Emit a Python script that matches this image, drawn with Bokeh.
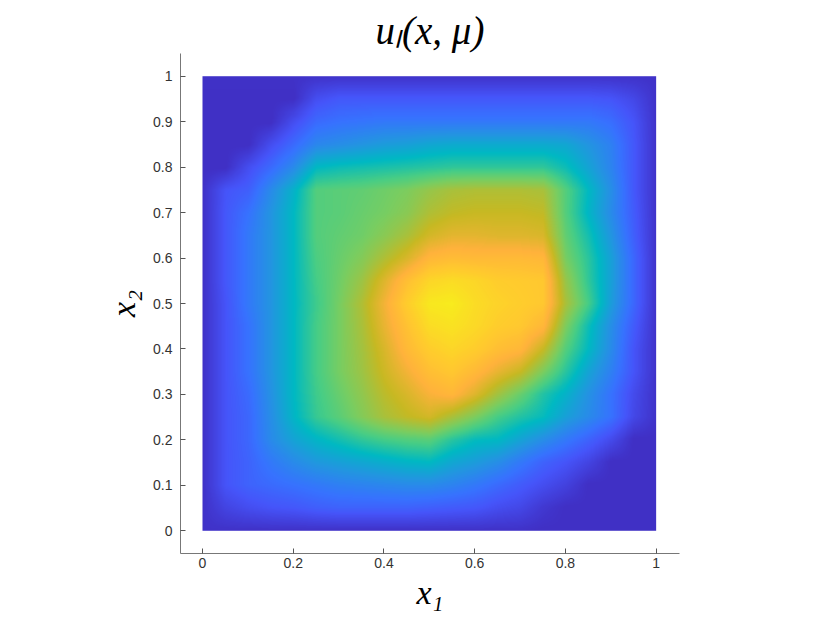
import numpy as np
from bokeh.plotting import figure
from bokeh.models import LinearColorMapper, FixedTicker
from bokeh.embed import file_html
from bokeh.resources import INLINE

title_text = "uₗ(x, μ)"
x_label = "x₁"
y_label = "x₂"
x_ticks = [0, 0.2, 0.4, 0.6, 0.8, 1]
y_ticks = [0, 0.1, 0.2, 0.3, 0.4, 0.5, 0.6, 0.7, 0.8, 0.9, 1]

node_x = [round(0.05 * i, 2) for i in range(21)]
node_y = [round(1 - 0.05 * i, 2) for i in range(21)]

# u values read at the nodes, top row (x2 = 1) first, left column (x1 = 0) first
u_rows = [
    [.01,.01,.01,.01,.01,.01,.01,.01,.01,.01,.01,.01,.01,.01,.01,.01,.01,.01,.01,.01,.01],
    [0,0,0,0,0,.10,.13,.13,.13,.13,.13,.13,.13,.13,.13,.13,.13,.13,.12,.08,.01],
    [0,0,0,0,.10,.18,.20,.21,.22,.22,.22,.22,.22,.22,.22,.22,.22,.22,.19,.12,.01],
    [0,0,0,.10,.18,.26,.28,.30,.32,.33,.35,.36,.36,.36,.36,.36,.35,.30,.24,.13,.01],
    [0,0,.10,.18,.27,.40,.42,.43,.44,.45,.46,.47,.47,.47,.47,.47,.42,.34,.25,.13,.01],
    [.01,.12,.15,.27,.38,.52,.53,.54,.56,.58,.62,.65,.66,.66,.66,.65,.52,.40,.28,.13,.01],
    [.01,.13,.20,.30,.40,.52,.53,.55,.57,.60,.66,.69,.70,.70,.70,.69,.52,.39,.27,.14,.01],
    [.01,.13,.22,.30,.40,.52,.54,.56,.60,.65,.72,.75,.75,.74,.74,.73,.54,.43,.30,.15,.01],
    [.01,.13,.22,.30,.40,.51,.55,.59,.66,.73,.82,.84,.83,.83,.83,.82,.57,.46,.33,.17,.01],
    [.01,.13,.22,.30,.40,.50,.56,.63,.74,.85,.93,.95,.93,.90,.89,.88,.62,.47,.33,.17,.01],
    [.01,.12,.22,.30,.40,.49,.57,.66,.78,.90,.99,1.0,.95,.92,.90,.88,.65,.50,.32,.17,.01],
    [.01,.12,.20,.30,.40,.50,.57,.65,.76,.86,.95,.97,.94,.90,.88,.82,.58,.42,.28,.14,.01],
    [.01,.12,.20,.30,.40,.50,.57,.64,.73,.83,.90,.93,.90,.85,.82,.70,.52,.40,.27,.12,.01],
    [.01,.12,.20,.30,.40,.50,.57,.63,.71,.78,.85,.88,.83,.76,.70,.58,.46,.34,.24,.12,.01],
    [.01,.12,.18,.29,.40,.49,.55,.61,.68,.73,.79,.82,.74,.64,.55,.45,.38,.29,.20,.09,.01],
    [.01,.12,.17,.28,.39,.48,.53,.59,.65,.69,.72,.65,.58,.50,.45,.41,.33,.27,.20,.08,.01],
    [.01,.12,.17,.27,.34,.39,.43,.47,.50,.52,.53,.46,.41,.40,.34,.28,.22,.16,.09,0,0],
    [.01,.12,.16,.22,.27,.31,.33,.35,.37,.39,.40,.35,.32,.28,.22,.16,.12,.07,0,0,0],
    [.01,.12,.16,.18,.20,.22,.24,.25,.26,.27,.27,.25,.22,.18,.14,.10,.06,0,0,0,0],
    [.01,.07,.10,.12,.13,.15,.16,.16,.16,.16,.15,.14,.13,.10,.08,.03,0,0,0,0,0],
    [.01,.01,.01,.01,.01,.01,.01,.01,.01,.01,.01,.01,.01,.01,.01,0,0,0,0,0,0],
]

color_stops = [0, .12, .2, .3, .4, .5, .58, .7, .8, .9, 1]
color_r = [64, 70, 55, 35, 0, 70, 125, 200, 255, 255, 248]
color_g = [48, 85, 115, 150, 185, 205, 205, 185, 178, 205, 235]
color_b = [197, 250, 255, 225, 195, 135, 95, 35, 60, 45, 30]

levels = np.linspace(0, 1, 256)
palette = ["#%02x%02x%02x" % (int(r), int(g), int(b)) for r, g, b in zip(
    np.interp(levels, color_stops, color_r),
    np.interp(levels, color_stops, color_g),
    np.interp(levels, color_stops, color_b))]

# smooth ("interp") shading of the node values
z = np.array(u_rows, dtype=float)[::-1]
ny_nodes = np.array(node_y[::-1])
nx_nodes = np.array(node_x)
fine_x = np.linspace(0, 1, 454)
fine_y = np.linspace(0, 1, 454)
tmp = np.array([np.interp(fine_x, nx_nodes, row) for row in z])
shaded = np.array([np.interp(fine_y, ny_nodes, col) for col in tmp.T]).T

p = figure(width=820, height=615, output_backend="svg", toolbar_location=None,
           x_range=(-0.0485, 1.0515), y_range=(-0.05, 1.05),
           min_border_left=180, min_border_right=141,
           min_border_top=53, min_border_bottom=62)
p.image(image=[shaded], x=0, y=0, dw=1, dh=1,
        color_mapper=LinearColorMapper(palette=palette, low=0, high=1))

p.grid.visible = False
p.outline_line_color = None

p.title.text = title_text
p.title.align = "center"
p.title.text_font = "Liberation Serif"
p.title.text_font_style = "italic"
p.title.text_font_size = "39px"
p.title.text_color = "#000000"
p.title.standoff = 4

for ax, ticks in ((p.xaxis[0], x_ticks), (p.yaxis[0], y_ticks)):
    ax.ticker = FixedTicker(ticks=ticks)
    ax.major_label_overrides = {t: ("%g" % t) for t in ticks}
    ax.axis_label_text_font = "Liberation Serif"
    ax.axis_label_text_font_style = "italic"
    ax.axis_label_text_font_size = "34px"
    ax.axis_label_text_color = "#000000"
    ax.major_label_text_font = "Liberation Sans"
    ax.major_label_text_font_size = "14px"
    ax.major_label_text_color = "#333333"
    ax.axis_line_color = "#777777"
    ax.major_tick_line_color = "#555555"
    ax.major_tick_in = 5
    ax.major_tick_out = 0
    ax.minor_tick_line_color = None
p.xaxis[0].axis_label = x_label
p.yaxis[0].axis_label = y_label
p.xaxis[0].major_label_standoff = 4
p.yaxis[0].major_label_standoff = 8
p.xaxis[0].axis_label_standoff = 3
p.yaxis[0].axis_label_standoff = 8

open("out.html", "w").write(file_html(p, INLINE))
